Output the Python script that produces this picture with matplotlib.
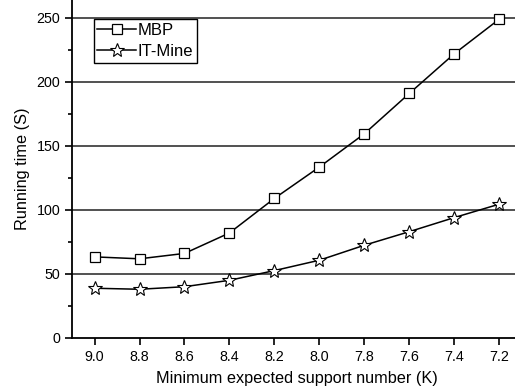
import matplotlib
matplotlib.use("Agg")
import matplotlib.pyplot as plt
from matplotlib.ticker import MultipleLocator

plt.rcParams["font.family"] = ["Liberation Sans", "DejaVu Sans"]

support = [9.0, 8.8, 8.6, 8.4, 8.2, 8.0, 7.8, 7.6, 7.4, 7.2]
mbp     = [63.3, 61.8, 66, 82, 109, 133.5, 159.5, 191, 222, 249]
itmine  = [38.8, 38, 40, 45, 52.6, 60.7, 72.4, 83, 94, 104.5]

fig = plt.figure(figsize=(5.15, 3.92), dpi=100)
ax = fig.add_axes([0.14, 0.138, 0.873, 0.862])

for y in [50, 100, 150, 200, 250]:
    ax.axhline(y, color="#333333", lw=1.2, zorder=1)

ax.plot(support, mbp, color="black", lw=1.1, marker="s", ms=7,
        mfc="white", mec="black", mew=0.9, label="MBP", zorder=3)
ax.plot(support, itmine, color="black", lw=1.1, marker="*", ms=10,
        mfc="white", mec="black", mew=0.8, label="IT-Mine", zorder=3)

ax.set_xlim(9.1, 7.1)
ax.set_ylim(0, 264)
ax.set_xticks(support)
ax.set_xticklabels([f"{v:.1f}" for v in support])
ax.yaxis.set_major_locator(MultipleLocator(50))
ax.yaxis.set_minor_locator(MultipleLocator(25))
ax.tick_params(axis="both", which="major", direction="out", length=5,
               width=1.2, labelsize=10.3)
ax.tick_params(axis="y", which="minor", direction="out", length=3, width=1.2)
ax.spines[["top", "right"]].set_visible(False)
for s in ["left", "bottom"]:
    ax.spines[s].set_linewidth(1.3)

ax.set_xlabel("Minimum expected support number (K)", fontsize=11.7, labelpad=5)
ax.set_ylabel("Running time (S)", fontsize=11.7, labelpad=5)

ax.legend(loc="upper left", bbox_to_anchor=(0.048, 0.944), fontsize=12,
          frameon=True, fancybox=False, edgecolor="black", framealpha=1,
          handlelength=2.3, handletextpad=0.1, borderpad=0.22,
          labelspacing=0.38, borderaxespad=0)

fig.savefig("out.png", dpi=100)
